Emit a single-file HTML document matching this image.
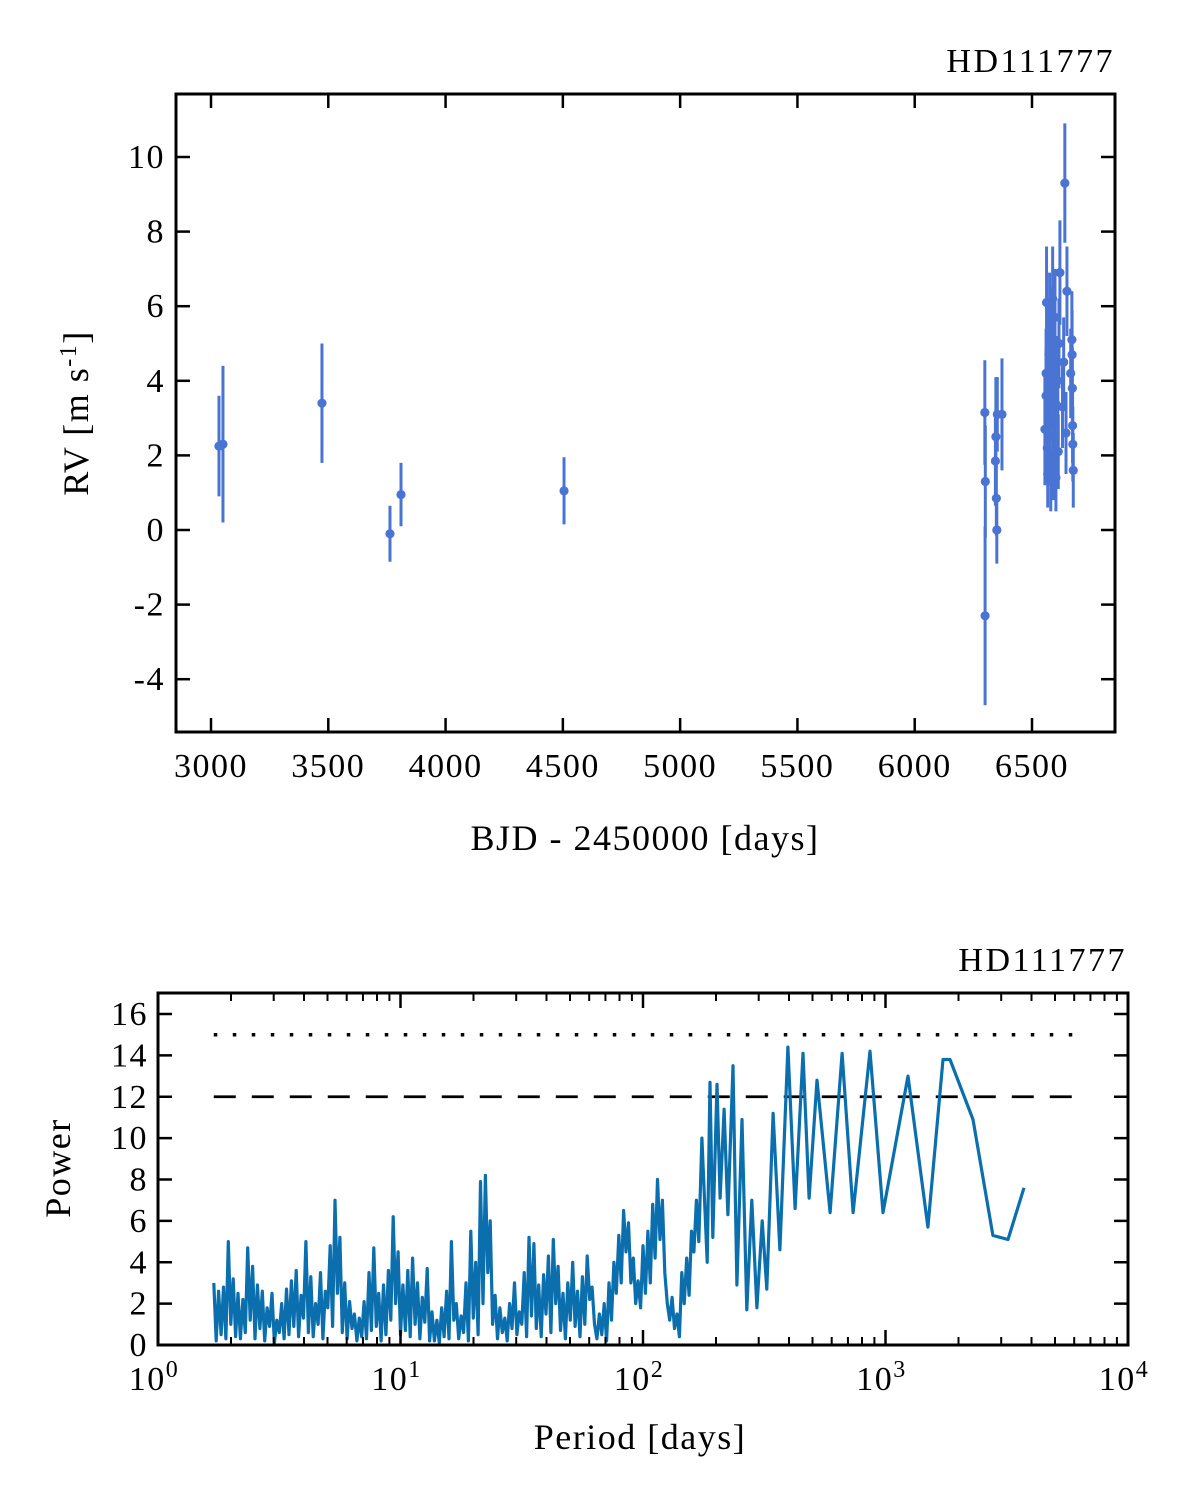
<!DOCTYPE html>
<html><head><meta charset="utf-8"><style>
html,body{margin:0;padding:0;background:#fff;}
svg{display:block;font-family:"Liberation Serif",serif;}
</style></head><body>
<svg id="fig" width="1200" height="1502" viewBox="0 0 1200 1502">
<g id="topPanel"></g>
<g id="botPanel"></g>
</svg>
<script>
// ---- RV data ----
const rvDays = [3034,3051,3473,3763,3810,4505,6299,6301,6300,6346,6344,6348,6350,6352,6372,
6555,6560,6560,6562,6565,6567,6570,6572,6575,6578,6580,6583,6585,6588,6590,6592,6595,6598,6600,6602,6619,6610,6612,6615,6649,6640,6630,6635,6645,6670,6665,6672,6673,6674,6676,6671];
const rvValues = [2.25,2.3,3.4,-0.1,0.95,1.05,3.15,1.3,-2.3,2.5,1.85,0.85,0.0,3.1,3.1,
2.7,3.6,4.2,6.1,2.2,1.5,3.0,4.7,5.5,2.5,1.3,3.8,5.2,6.2,1.8,4.4,2.9,5.7,3.4,1.4,6.9,4.0,2.1,5.0,6.4,9.3,3.3,4.5,2.6,5.1,4.2,3.8,2.8,2.3,1.6,4.7];
const rvErrors = [1.35,2.1,1.6,0.75,0.85,0.9,1.4,1.5,2.4,1.6,1.2,1.0,0.9,1.0,1.5,
1.5,1.3,1.2,1.5,1.0,0.9,1.1,1.3,1.4,1.2,0.8,1.1,1.3,1.4,1.0,1.2,1.1,1.3,1.2,0.9,1.4,1.2,1.0,1.2,1.2,1.6,1.1,1.2,1.1,1.3,1.2,1.1,1.0,1.0,1.0,1.2];
const rvXTicks = [3000,3500,4000,4500,5000,5500,6000,6500];
const rvYTicks = [-4,-2,0,2,4,6,8,10];

// ---- Periodogram data (log10 period, power) ----
const noiseLogPeriods = [0.23,0.24,0.25,0.26,0.27,0.28,0.29,0.30,0.31,0.32,0.33,0.34,0.35,0.36,0.37,0.38,0.39,0.40,0.41,0.42,0.43,0.44,0.45,0.46,0.47,0.48,0.49,0.50,0.51,0.52,0.53,0.54,0.55,0.56,0.57,0.58,0.59,0.60,0.61,0.62,0.63,0.64,0.65,0.66,0.67,0.68,0.69,0.70,0.71,0.72,0.73,0.74,0.75,0.76,0.77,0.78,0.79,0.80,0.81,0.82,0.83,0.84,0.85,0.86,0.87,0.88,0.89,0.90,0.91,0.92,0.93,0.94,0.95,0.96,0.97,0.98,0.99,1.00,1.01,1.02,1.03,1.04,1.05,1.06,1.07,1.08,1.09,1.10,1.11,1.12,1.13,1.14,1.15,1.16,1.17,1.18,1.19,1.20,1.21,1.22,1.23,1.24,1.25,1.26,1.27,1.28,1.29,1.30,1.31,1.32,1.33,1.34,1.35,1.36,1.37,1.38,1.39,1.40,1.41,1.42,1.43,1.44,1.45,1.46,1.47,1.48,1.49,1.50,1.51,1.52,1.53,1.54,1.55,1.56,1.57,1.58,1.59,1.60,1.61,1.62,1.63,1.64,1.65,1.66,1.67,1.68,1.69,1.70,1.71,1.72,1.73,1.74,1.75,1.76,1.77,1.78,1.79,1.80,1.81,1.82,1.83,1.84,1.85,1.86,1.87,1.88,1.89,1.90,1.91,1.92,1.93,1.94,1.95,1.96,1.97,1.98,1.99,2.00,2.01,2.02,2.03,2.04,2.05,2.06,2.07,2.08,2.09,2.10,2.11,2.12,2.13,2.14,2.15,2.16,2.17,2.18,2.19,2.20,2.21,2.22,2.23];
const noisePowers = [3.0,0.2,2.6,0.5,2.8,0.3,5.0,1.0,3.2,0.4,
2.5,0.3,2.2,0.6,4.7,1.2,3.8,0.3,2.9,0.8,
2.6,0.2,1.8,0.9,2.5,0.1,1.2,0.6,2.0,0.3,
2.7,0.5,3.1,0.9,3.6,0.4,2.4,1.3,5.0,0.6,
3.3,0.4,2.0,1.0,3.5,0.3,2.6,1.8,4.8,0.9,
7.0,2.5,5.2,0.6,3.0,0.3,2.1,0.8,1.5,0.2,
1.3,0.4,2.1,0.3,3.5,0.7,4.7,0.9,2.5,0.2,
2.9,0.5,3.6,1.2,6.2,2.0,4.5,0.5,2.9,0.7,
3.6,0.4,4.2,1.0,3.0,0.3,2.3,1.1,3.7,0.2,
1.6,0.2,1.2,0.1,1.8,0.4,2.6,0.3,5.0,1.2,
2.0,0.3,1.4,0.6,3.0,0.2,5.5,1.3,4.0,0.5,
7.9,2.0,8.2,3.5,6.0,1.0,2.4,0.3,1.8,0.6,
1.3,0.2,2.0,0.8,3.0,0.5,1.6,1.0,3.5,0.4,
5.2,1.4,4.9,0.8,2.9,0.4,3.4,1.5,4.3,0.6,
5.1,2.0,3.8,0.7,2.5,0.3,3.0,1.2,4.0,0.9,
2.6,0.4,3.3,1.0,4.3,2.2,2.8,1.0,0.3,1.5,
0.5,2.0,0.2,3.0,1.2,4.0,2.5,5.3,3.0,6.5,
4.5,5.9,3.0,4.2,2.0,3.1,1.8,4.8,2.5,5.5,
3.0,6.8,4.2,8.0,5.1,7.0,3.5,2.0,1.2,2.3,
0.8,1.5,0.4,3.5,2.0,4.2,2.4,5.5,4.5,7.0,
5.0];
const longPeriods = [175,184,189,194,202,208,216,224,235,244,256,268,281,295,310,324,344,367,396,424,457,484,522,591,662,735,863,977,1238,1496,1726,1845,2296,2773,3200,3725];
const longPowers = [10.0,4.0,12.7,5.2,12.6,7.1,11.4,6.3,13.5,2.9,10.9,1.7,7.0,1.8,6.0,2.7,11.2,4.6,14.4,6.6,14.1,7.1,12.8,6.4,14.1,6.4,14.2,6.4,13.0,5.7,13.8,13.8,10.9,5.3,5.1,7.6];
const fapLevels = [12, 15];
const powYTicks = [0,2,4,6,8,10,12,14,16];
const decadeTicks = [0,1,2,3,4];

const NS='http://www.w3.org/2000/svg';
function mk(parent, tag, attrs){const e=document.createElementNS(NS,tag);for(const k in attrs)e.setAttribute(k,attrs[k]);parent.appendChild(e);return e;}
const TICKFS=34, TICKLS=1.5, TITLEFS=36, TITLELS=1.5;

// ===== TOP PANEL =====
const topG=document.getElementById('topPanel');
const T={x0:176,x1:1115,y0:94,y1:732};
const tx=d=>211+(d-3000)*(1032-211)/3500;
const ty=v=>530-v*(530-157)/10;
const blue='#4a74d4';
for(let i=0;i<rvDays.length;i++){
  const x=tx(rvDays[i]);
  const eb=mk(topG,'line',{x1:x,x2:x,y1:ty(rvValues[i]-rvErrors[i]),y2:ty(rvValues[i]+rvErrors[i]),stroke:blue,'stroke-width':3});
  
  
  const pt=mk(topG,'circle',{cx:x,cy:ty(rvValues[i]),r:4.6,fill:blue});
  
  
}
rvXTicks.forEach(t=>{
  const x=tx(t);
  mk(topG,'line',{x1:x,x2:x,y1:T.y1,y2:T.y1-14,stroke:'#000','stroke-width':2.5});
  mk(topG,'line',{x1:x,x2:x,y1:T.y0,y2:T.y0+14,stroke:'#000','stroke-width':2.5});
  const lb=mk(topG,'text',{x:x,y:777,'font-size':TICKFS,'letter-spacing':TICKLS,'text-anchor':'middle'});lb.textContent=t;
  
  
});
rvYTicks.forEach(t=>{
  const y=ty(t);
  mk(topG,'line',{x1:T.x0,x2:T.x0+14,y1:y,y2:y,stroke:'#000','stroke-width':2.5});
  mk(topG,'line',{x1:T.x1,x2:T.x1-14,y1:y,y2:y,stroke:'#000','stroke-width':2.5});
  const lb=mk(topG,'text',{x:165,y:y+11,'font-size':TICKFS,'letter-spacing':TICKLS,'text-anchor':'end'});lb.textContent=t;
  
  
});
const tf=mk(topG,'rect',{x:T.x0,y:T.y0,width:T.x1-T.x0,height:T.y1-T.y0,fill:'none',stroke:'#000','stroke-width':3});


let t1=mk(topG,'text',{x:1115,y:72,'font-size':TICKFS,'letter-spacing':2.5,'text-anchor':'end'});t1.textContent='HD111777';


let t2=mk(topG,'text',{x:645,y:850,'font-size':TITLEFS,'letter-spacing':TITLELS,'text-anchor':'middle'});t2.textContent='BJD - 2450000 [days]';


let t3=mk(topG,'text',{x:0,y:0,'font-size':TITLEFS,'letter-spacing':TITLELS,'text-anchor':'middle',transform:'translate(88,413) rotate(-90)'});


t3.appendChild(document.createTextNode('RV [m s'));
let t3s=mk(t3,'tspan',{dy:-12,'font-size':24});t3s.textContent='-1';
let t3e=mk(t3,'tspan',{dy:12});t3e.textContent=']';

// ===== BOTTOM PANEL =====
const botG=document.getElementById('botPanel');
const B={x0:158,x1:1128,y0:993,y1:1345};
const bx=lp=>B.x0+lp*(B.x1-B.x0)/4;
const by=p=>B.y1-p*(B.y1-1014)/16;
const fd=mk(botG,'line',{x1:bx(0.23),x2:1085,y1:by(fapLevels[0]),y2:by(fapLevels[0]),stroke:'#000','stroke-width':2.8,'stroke-dasharray':'22 16'});


const fo=mk(botG,'line',{x1:bx(0.23),x2:1085,y1:by(fapLevels[1]),y2:by(fapLevels[1]),stroke:'#000','stroke-width':3.5,'stroke-dasharray':'3.5 15.5'});


let pts=[];
for(let i=0;i<noiseLogPeriods.length;i++)pts.push(bx(noiseLogPeriods[i]).toFixed(1)+','+by(noisePowers[i]).toFixed(1));
for(let i=0;i<longPeriods.length;i++)pts.push(bx(Math.log10(longPeriods[i])).toFixed(1)+','+by(longPowers[i]).toFixed(1));
const pl=mk(botG,'polyline',{points:pts.join(' '),fill:'none',stroke:'#0b6fae','stroke-width':3.2,'stroke-linejoin':'round'});


decadeTicks.forEach(d=>{
  const x=bx(d);
  mk(botG,'line',{x1:x,x2:x,y1:B.y1,y2:B.y1-15,stroke:'#000','stroke-width':2.5});
  mk(botG,'line',{x1:x,x2:x,y1:B.y0,y2:B.y0+15,stroke:'#000','stroke-width':2.5});
  if(d<4)for(let m=2;m<10;m++){const xm=bx(d+Math.log10(m));
    mk(botG,'line',{x1:xm,x2:xm,y1:B.y1,y2:B.y1-8,stroke:'#000','stroke-width':2});
    mk(botG,'line',{x1:xm,x2:xm,y1:B.y0,y2:B.y0+8,stroke:'#000','stroke-width':2});}
  const lb=mk(botG,'text',{x:x-4,y:1390,'font-size':TICKFS,'letter-spacing':TICKLS,'text-anchor':'middle'});
  
  
  lb.appendChild(document.createTextNode('10'));
  const sup=mk(lb,'tspan',{dy:-13,'font-size':24});sup.textContent=String(d);
});
powYTicks.forEach(t=>{
  const y=by(t);
  mk(botG,'line',{x1:B.x0,x2:B.x0+14,y1:y,y2:y,stroke:'#000','stroke-width':2.5});
  mk(botG,'line',{x1:B.x1,x2:B.x1-14,y1:y,y2:y,stroke:'#000','stroke-width':2.5});
  const lb=mk(botG,'text',{x:148,y:y+11,'font-size':TICKFS,'letter-spacing':TICKLS,'text-anchor':'end'});lb.textContent=t;
  
  
});
const bf=mk(botG,'rect',{x:B.x0,y:B.y0,width:B.x1-B.x0,height:B.y1-B.y0,fill:'none',stroke:'#000','stroke-width':3});


let b1=mk(botG,'text',{x:1127,y:971,'font-size':TICKFS,'letter-spacing':2.5,'text-anchor':'end'});b1.textContent='HD111777';


let b2=mk(botG,'text',{x:640,y:1449,'font-size':TITLEFS,'letter-spacing':TITLELS,'text-anchor':'middle'});b2.textContent='Period [days]';


let b3=mk(botG,'text',{x:0,y:0,'font-size':TITLEFS,'letter-spacing':TITLELS,'text-anchor':'middle',transform:'translate(70,1168) rotate(-90)'});b3.textContent='Power';


</script>
</body></html>
